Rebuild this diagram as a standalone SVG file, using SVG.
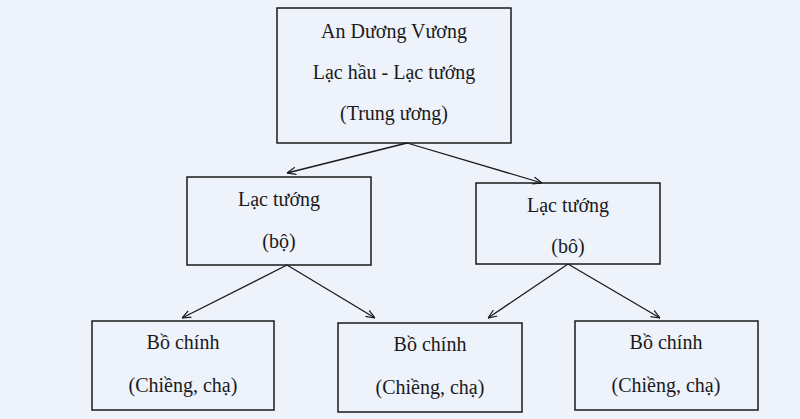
<svg xmlns="http://www.w3.org/2000/svg" width="800" height="419" viewBox="0 0 800 419">
<style>
rect{fill:none;stroke:#1a1a1a;stroke-width:1.5}
text{font-family:"Liberation Serif","DejaVu Serif",serif;font-size:20px;fill:#1a1a1a;text-anchor:middle}
#connectors line{stroke:#1a1a1a;stroke-width:1.3;marker-end:url(#a)}
</style>
<defs><marker id="a" viewBox="0 0 10 10" refX="10" refY="5" markerWidth="9" markerHeight="9" orient="auto" markerUnits="userSpaceOnUse"><path d="M0,1 L10,5 L0,9" fill="none" stroke="#1a1a1a" stroke-width="1.3"/></marker></defs>
<rect x="0" y="0" width="800" height="419" style="fill:#eef2fb;stroke:none"/>
<g id="top"><rect x="277" y="8" width="234" height="135"/><text x="394" y="38">An Dương Vương</text><text x="394" y="79">Lạc hầu - Lạc tướng</text><text x="394" y="120">(Trung ương)</text></g>
<g id="mid1"><rect x="187" y="177" width="184" height="88"/><text x="279" y="206">Lạc tướng</text><text x="279" y="248">(bộ)</text></g>
<g id="mid2"><rect x="476" y="183" width="184" height="81"/><text x="568" y="212">Lạc tướng</text><text x="568" y="253">(bô)</text></g>
<g id="b1"><rect x="92" y="321" width="182" height="89"/><text x="183" y="349">Bồ chính</text><text x="183" y="392">(Chiềng, chạ)</text></g>
<g id="b2"><rect x="338" y="323" width="184" height="89"/><text x="430" y="351">Bồ chính</text><text x="430" y="394">(Chiềng, chạ)</text></g>
<g id="b3"><rect x="575" y="321" width="183" height="89"/><text x="666" y="349">Bồ chính</text><text x="666" y="392">(Chiềng, chạ)</text></g>
<g id="connectors">
<line x1="407" y1="143" x2="287" y2="173"/><line x1="407" y1="143" x2="542" y2="183"/>
<line x1="287" y1="265" x2="182" y2="318"/><line x1="287" y1="265" x2="375" y2="318"/>
<line x1="568" y1="264" x2="488" y2="318"/><line x1="568" y1="264" x2="660" y2="318"/>
</g>
</svg>
